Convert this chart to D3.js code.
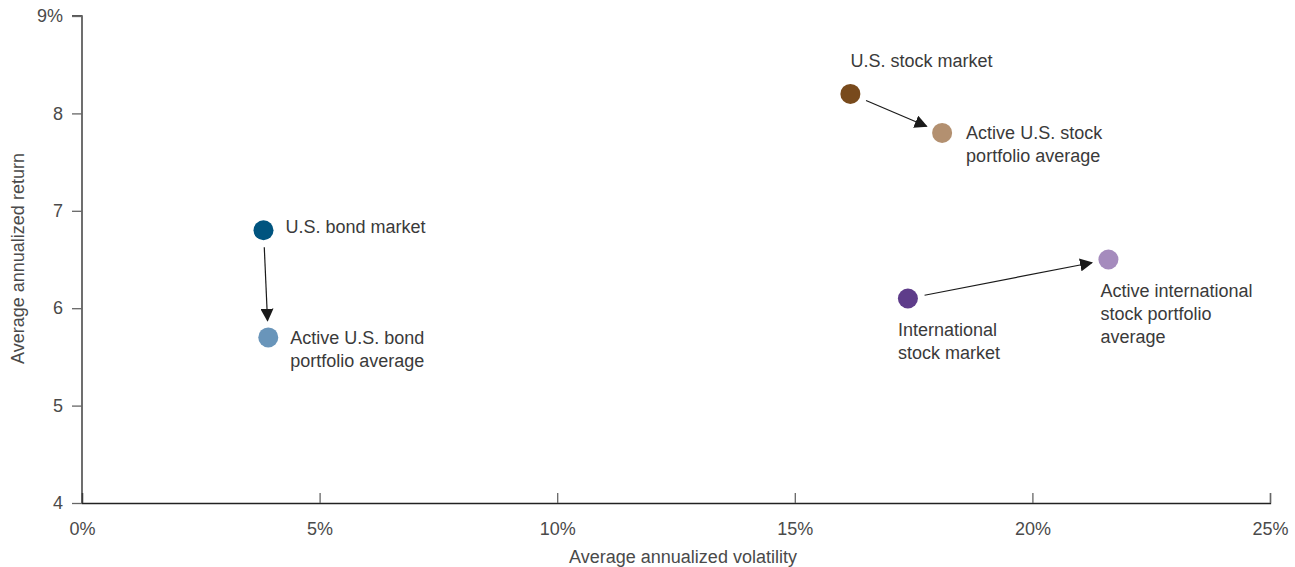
<!DOCTYPE html>
<html>
<head>
<meta charset="utf-8">
<script src="https://cdn.jsdelivr.net/npm/d3@7"></script>
<style>
  body { margin: 0; background: #fff; }
  svg text { font-family: "Liberation Sans", Arial, sans-serif; }
</style>
</head>
<body>
<script>
// data
var names = ["U.S. bond market", "Active U.S. bond portfolio average",
             "U.S. stock market", "Active U.S. stock portfolio average",
             "International stock market", "Active international stock portfolio average"];
var volatility = [3.82, 3.92, 16.17, 18.1, 17.38, 21.6];
var returns = [6.8, 5.7, 8.2, 7.8, 6.1, 6.5];
var colors = ["#00547f", "#6995ba", "#784a1c", "#b39070", "#5e3c8a", "#a58bbd"];
var labelLines = [["U.S. bond market"], ["Active U.S. bond", "portfolio average"],
                  ["U.S. stock market"], ["Active U.S. stock", "portfolio average"],
                  ["International", "stock market"], ["Active international", "stock portfolio", "average"]];
var arrows = [[0, 1], [2, 3], [4, 5]];   // from index -> to index
var xTicks = [0, 5, 10, 15, 20, 25];
var yTicks = [4, 5, 6, 7, 8, 9];

// label placement: dx, dy (first line centre) relative to point
var labelPos = [[22, -4], [22, 0], [0, -33], [24, 0], [-10, 31], [-8, 31]];

var W = 1295, H = 567;
var margin = {top: 16, right: 25, bottom: 64, left: 82};
var width = W - margin.left - margin.right,
    height = H - margin.top - margin.bottom;

var x = d3.scaleLinear().domain([0, 25]).range([0, width]);
var y = d3.scaleLinear().domain([4, 9]).range([height, 0]);

var svg = d3.select("body").append("svg")
    .attr("width", W).attr("height", H);

var defs = svg.append("defs");
defs.append("marker")
    .attr("id", "arr")
    .attr("viewBox", "0 0 10 10")
    .attr("refX", 9).attr("refY", 5)
    .attr("markerWidth", 13).attr("markerHeight", 13)
    .attr("markerUnits", "userSpaceOnUse")
    .attr("orient", "auto")
  .append("path")
    .attr("d", "M0,0 L10,5 L0,10 z")
    .attr("fill", "#1a1a1a");

var g = svg.append("g")
    .attr("transform", "translate(" + margin.left + "," + margin.top + ")");

// x axis, ticks pointing up
var xAxis = d3.axisBottom(x).tickValues(xTicks)
    .tickSize(-10)
    .tickFormat(function(d) { return d + "%"; });
var gx = g.append("g")
    .attr("transform", "translate(0," + height + ")")
    .call(xAxis);
gx.attr("font-size", 18).attr("font-family", null);
gx.select(".domain").attr("stroke", "#222").attr("stroke-width", 1.3);
gx.selectAll(".tick line").attr("stroke", "#666").attr("stroke-width", 1.3);
gx.selectAll(".tick text")
    .attr("fill", "#4a4a4a").attr("dy", "0.35em")
    .attr("y", 26);

// y axis, ticks pointing left
var yAxis = d3.axisLeft(y).tickValues(yTicks)
    .tickSize(10).tickPadding(9)
    .tickFormat(function(d) { return d === 9 ? "9%" : d; });
var gy = g.append("g").call(yAxis);
gy.attr("font-size", 18).attr("font-family", null);
gy.select(".domain").attr("stroke", "#222").attr("stroke-width", 1.3)
    .attr("d", "M0," + y(4) + "V" + y(9) + "H-10");
gy.selectAll(".tick line").attr("stroke", "#666").attr("stroke-width", 1.3);
gy.selectAll(".tick text").attr("fill", "#4a4a4a");

// axis titles
g.append("text")
    .attr("x", width / 2 + 7).attr("y", height + 60)
    .attr("text-anchor", "middle")
    .attr("font-size", 18).attr("fill", "#4a4a4a")
    .text("Average annualized volatility");
g.append("text")
    .attr("transform", "translate(-58," + (height / 2 - 1) + ") rotate(-90)")
    .attr("text-anchor", "middle")
    .attr("font-size", 18).attr("fill", "#4a4a4a")
    .text("Average annualized return");

// arrows
var rad = 10;
arrows.forEach(function(a) {
    var x1 = x(volatility[a[0]]), y1 = y(returns[a[0]]);
    var x2 = x(volatility[a[1]]), y2 = y(returns[a[1]]);
    var dx = x2 - x1, dy = y2 - y1, len = Math.sqrt(dx * dx + dy * dy);
    var ux = dx / len, uy = dy / len;
    g.append("line")
        .attr("x1", x1 + ux * (rad + 7)).attr("y1", y1 + uy * (rad + 7))
        .attr("x2", x2 - ux * (rad + 7)).attr("y2", y2 - uy * (rad + 7))
        .attr("stroke", "#1a1a1a").attr("stroke-width", 1.2)
        .attr("marker-end", "url(#arr)");
});

// points
g.selectAll("circle.pt")
    .data(names)
  .enter().append("circle")
    .attr("class", "pt")
    .attr("cx", function(d, i) { return x(volatility[i]); })
    .attr("cy", function(d, i) { return y(returns[i]); })
    .attr("r", rad)
    .attr("fill", function(d, i) { return colors[i]; });

// labels
names.forEach(function(n, i) {
    var t = g.append("text")
        .attr("x", x(volatility[i]) + labelPos[i][0])
        .attr("y", y(returns[i]) + labelPos[i][1])
        .attr("font-size", 18).attr("fill", "#3a3a3a");
    labelLines[i].forEach(function(l, k) {
        t.append("tspan")
            .attr("x", x(volatility[i]) + labelPos[i][0])
            .attr("dy", k === 0 ? "0.35em" : "1.28em")
            .text(l);
    });
});
</script>
</body>
</html>
